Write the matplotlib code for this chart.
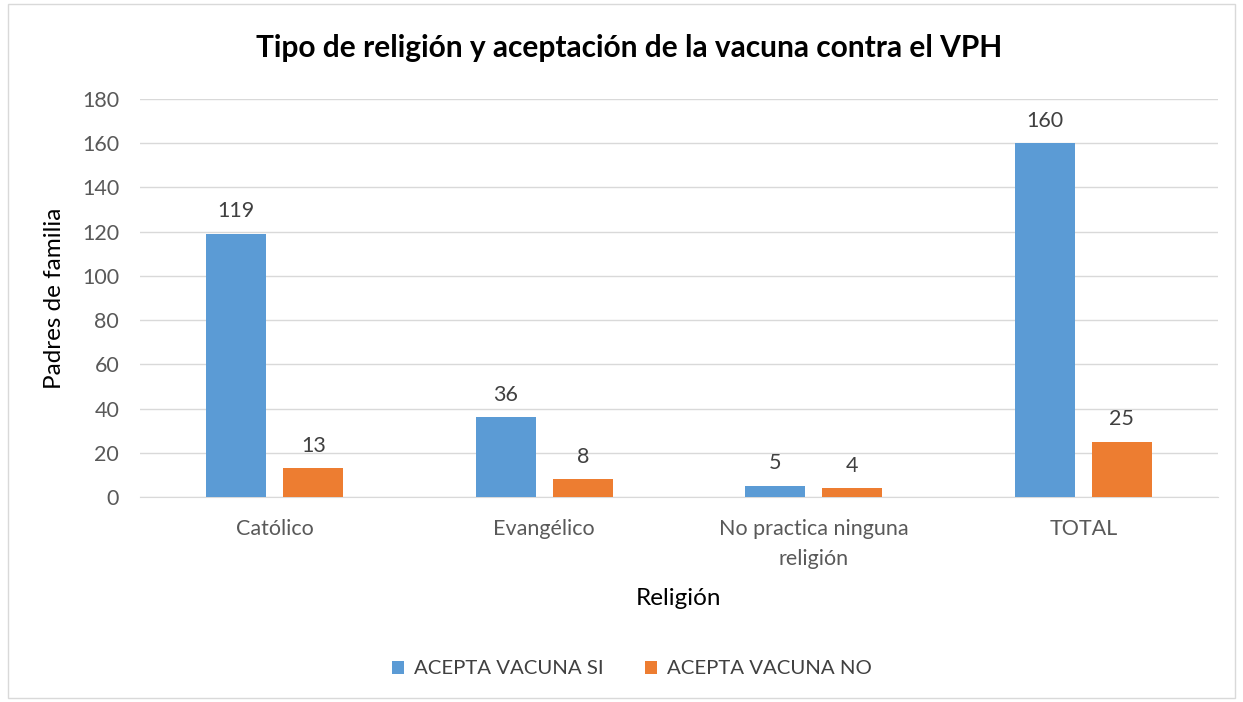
import numpy as np
import matplotlib.pyplot as plt
from matplotlib.patches import Rectangle

plt.rcParams['font.family'] = ['Lato', 'DejaVu Sans']

categorias = ['Católico', 'Evangélico', 'No practica ninguna\nreligión', 'TOTAL']
acepta_si = [119, 36, 5, 160]
acepta_no = [13, 8, 4, 25]

fig = plt.figure(figsize=(12.43, 7.02), dpi=100)
ax = fig.add_axes([140/1243, 1-497/702, (1218-140)/1243, (497-99)/702])

x = np.arange(len(categorias))
w = 0.223
b1 = ax.bar(x - 0.143, acepta_si, w, color='#5B9BD5', label='ACEPTA VACUNA SI', zorder=3)
b2 = ax.bar(x + 0.143, acepta_no, w, color='#ED7D31', label='ACEPTA VACUNA NO', zorder=3)
for bars in (b1, b2):
    ax.bar_label(bars, padding=9, fontsize=15.5, color='#404040')

ax.set_xlim(-0.5, 3.5)
ax.set_ylim(0, 180)
ax.set_yticks(range(0, 181, 20))
ax.set_xticks(x)
ax.set_xticklabels(categorias, linespacing=1.6)
ax.tick_params(axis='both', length=0, labelsize=15.5, labelcolor='#595959')
ax.tick_params(axis='x', pad=16)
ax.tick_params(axis='y', pad=15)
ax.grid(axis='y', color='#D9D9D9', linewidth=1, zorder=0)
for s in ['top', 'right', 'left']:
    ax.spines[s].set_visible(False)
ax.spines['bottom'].set_color('#D9D9D9')

ax.set_ylabel('Padres de familia', fontsize=17.5, labelpad=12)
ax.set_xlabel('Religión', fontsize=17.5, labelpad=14)
fig.text(629/1243, 1-48/702, 'Tipo de religión y aceptación de la vacuna contra el VPH',
         ha='center', va='center', fontsize=21.5, fontweight='bold')

fig.legend(loc='center', bbox_to_anchor=(632/1243, 1-669/702), ncol=2, frameon=False,
           fontsize=14.7, handlelength=0.6, handleheight=0.6, handletextpad=0.5,
           columnspacing=2.0, labelcolor='#404040')

fig.patches.append(Rectangle((8/1243, 4/702), 1-16/1243, 1-8/702, transform=fig.transFigure,
                             fill=False, edgecolor='#D9D9D9', linewidth=1))

fig.savefig('out.png', dpi=100)
